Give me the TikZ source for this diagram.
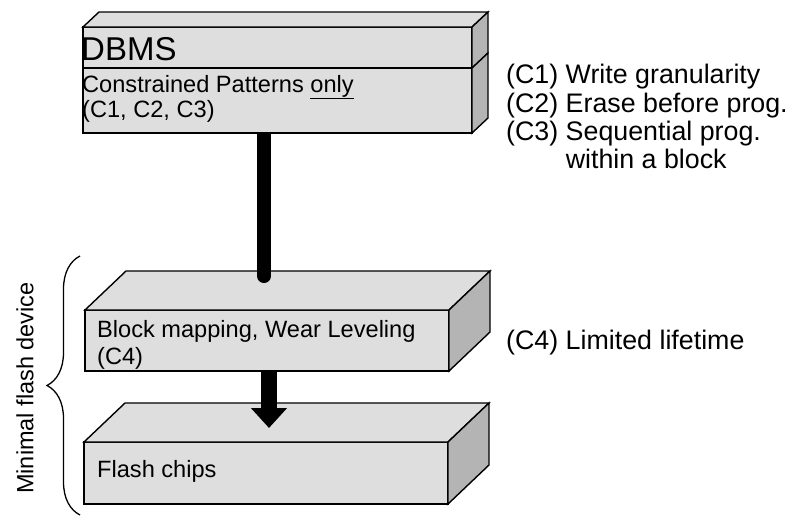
\documentclass[tikz,border=0pt]{standalone}
\usepackage{fontspec}
\setmainfont{Liberation Sans}
\usetikzlibrary{arrows.meta,calc,decorations.pathreplacing}
\definecolor{frontgray}{HTML}{DEDEDE}
\definecolor{sidegray}{HTML}{B4B4B4}
\begin{document}
\begin{tikzpicture}[x=1pt,y=-1pt,
  front/.style={draw=black, line width=1.4pt, fill=frontgray, inner sep=0pt,
    outer sep=0pt, anchor=north west, line join=miter},
  topface/.style={draw=black, line width=1.4pt, fill=frontgray, line join=miter},
  sideface/.style={draw=black, line width=1.4pt, fill=sidegray, line join=miter},
  boxtext/.style={inner sep=0pt, anchor=base west, font=\fontsize{23.6}{27}\selectfont},
  note/.style={inner sep=0pt, anchor=base west, font=\fontsize{26.8}{30}\selectfont},
  bar/.style={line width=14pt, line cap=round},
  fat/.style={line width=16pt, -{Triangle[width=35pt,length=20pt]}},
  bracket/.style={line width=1.3pt, decorate, decoration={brace, amplitude=33pt}}
]
\useasboundingbox (0,0) rectangle (802,517);

% --- translation layer (middle slab) ---
\node[front, minimum width=364pt, minimum height=61pt] (ftl) at (85,310) {};
\filldraw[topface] (ftl.north west) -- ++(41,-39) -- ($(ftl.north east)+(41,-39)$)
  -- (ftl.north east) -- cycle;
\filldraw[sideface] (ftl.north east) -- ++(41,-39) -- ($(ftl.south east)+(41,-39)$)
  -- (ftl.south east) -- cycle;

% --- flash chips (bottom slab) ---
\node[front, minimum width=364pt, minimum height=62pt] (chips) at (84,442) {};
\filldraw[topface] (chips.north west) -- ++(41,-39) -- ($(chips.north east)+(41,-39)$)
  -- (chips.north east) -- cycle;
\filldraw[sideface] (chips.north east) -- ++(41,-39) -- ($(chips.south east)+(41,-39)$)
  -- (chips.south east) -- cycle;

% --- DBMS (top slab, two stacked parts) ---
\node[front, minimum width=389pt, minimum height=41pt] (dbms) at (83,27) {};
\node[front, minimum width=389pt, minimum height=65pt] (cons) at (83,68) {};

% connectors: thick bar and arrow
\coordinate (ftlin) at ($(ftl.north)+(-3,-34)$);
\coordinate (chipsin) at ($(chips.north)+(3,-14)$);
\draw[bar] (cons.south -| ftlin) -- (ftlin);
\draw[fat] (ftl.south -| chipsin) -- (chipsin);

% redraw the DBMS slab over the bar's upper end
\node[front, minimum width=389pt, minimum height=41pt] at (83,27) {};
\node[front, minimum width=389pt, minimum height=65pt] at (83,68) {};
\filldraw[topface] (dbms.north west) -- ++(16,-15) -- ($(dbms.north east)+(16,-15)$)
  -- (dbms.north east) -- cycle;
\filldraw[sideface] (dbms.north east) -- ++(16,-15) -- ($(dbms.south east)+(16,-15)$)
  -- (dbms.south east) -- cycle;
\filldraw[sideface] (cons.north east) -- ++(16,-15) -- ($(cons.south east)+(16,-15)$)
  -- (cons.south east) -- cycle;

% texts inside the slabs
\node[inner sep=0pt, anchor=base west, font=\fontsize{33}{36}\selectfont] (tdbms) at (81,60) {DBMS};
\node[boxtext] (tcons) at (82,92) {Constrained Patterns \underline{only}};
\node[boxtext] (tc123) at (82,117) {(C1, C2, C3)};
\node[boxtext] (tftl) at (97,337) {Block mapping, Wear Leveling};
\node[boxtext] (tc4) at (97,364) {(C4)};
\node[boxtext] (tchips) at (97,477) {Flash chips};

% constraint notes
\node[note] (n1) at (506,83) {(C1) Write granularity};
\node[note] (n2) at (506,112) {(C2) Erase before prog.};
\node[note] (n3) at (506,140) {(C3) Sequential prog.};
\node[note] (n3b) at (506,168) {\hphantom{(C3)}\ within a block};
\node[note] (n4) at (506,349) {(C4) Limited lifetime};

% brace around the flash device
\draw[bracket] (80,515) -- (80,256);
\node[rotate=90, inner sep=0pt, font=\fontsize{23.5}{27}\selectfont] (mfd) at (25,388) {Minimal flash device};
\end{tikzpicture}
\end{document}
